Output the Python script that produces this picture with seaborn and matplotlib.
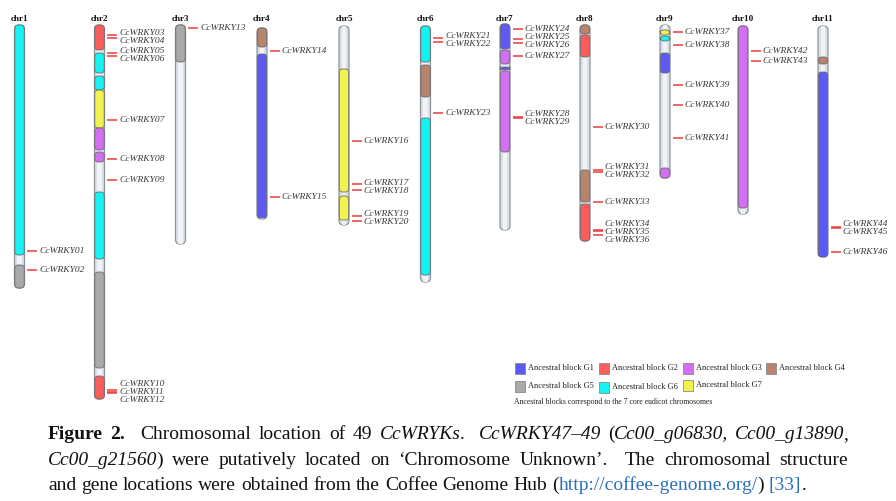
import matplotlib
matplotlib.use("Agg")
import matplotlib.pyplot as plt
from matplotlib.patches import FancyBboxPatch, Rectangle
import numpy as np
import pandas as pd
import seaborn as sns

# ---------------- data ----------------
chromosomes = ["chr1", "chr2", "chr3", "chr4", "chr5", "chr6",
               "chr7", "chr8", "chr9", "chr10", "chr11"]
chrom_top = [25, 25, 25, 28, 26, 26, 24, 25, 25, 26, 26]
chrom_bottom = [288, 399, 244, 219, 225, 282, 230, 241, 178, 214, 257]

block_chrom = ["chr1", "chr1",
               "chr2", "chr2", "chr2", "chr2", "chr2", "chr2", "chr2", "chr2", "chr2",
               "chr3",
               "chr4", "chr4",
               "chr5", "chr5",
               "chr6", "chr6", "chr6",
               "chr7", "chr7", "chr7", "chr7",
               "chr8", "chr8", "chr8", "chr8",
               "chr9", "chr9", "chr9", "chr9",
               "chr10",
               "chr11", "chr11"]
block_start = [25, 265,
               25, 53, 76, 90, 128, 152, 192, 272, 376,
               25,
               28, 54,
               69, 196,
               26, 65, 118,
               24, 50, 67, 71,
               25, 35, 170, 204,
               30, 36, 53, 168,
               26,
               57, 72]
block_end = [255, 288,
             50, 73, 90, 128, 150, 162, 259, 368, 399,
             62,
             47, 218,
             192, 220,
             62, 97, 275,
             49, 64, 70, 152,
             34, 57, 202, 241,
             35, 41, 73, 178,
             208,
             64, 257]
block_group = ["G6", "G5",
               "G2", "G6", "G6", "G7", "G3", "G3", "G6", "G5", "G2",
               "G5",
               "G4", "G1",
               "G7", "G7",
               "G6", "G4", "G6",
               "G1", "G3", "G1", "G3",
               "G4", "G2", "G4", "G2",
               "G7", "G6", "G1", "G3",
               "G3",
               "G4", "G1"]

gene_names = ["CcWRKY01", "CcWRKY02", "CcWRKY03", "CcWRKY04", "CcWRKY05",
              "CcWRKY06", "CcWRKY07", "CcWRKY08", "CcWRKY09", "CcWRKY10",
              "CcWRKY11", "CcWRKY12", "CcWRKY13", "CcWRKY14", "CcWRKY15",
              "CcWRKY16", "CcWRKY17", "CcWRKY18", "CcWRKY19", "CcWRKY20",
              "CcWRKY21", "CcWRKY22", "CcWRKY23", "CcWRKY24", "CcWRKY25",
              "CcWRKY26", "CcWRKY27", "CcWRKY28", "CcWRKY29", "CcWRKY30",
              "CcWRKY31", "CcWRKY32", "CcWRKY33", "CcWRKY34", "CcWRKY35",
              "CcWRKY36", "CcWRKY37", "CcWRKY38", "CcWRKY39", "CcWRKY40",
              "CcWRKY41", "CcWRKY42", "CcWRKY43", "CcWRKY44", "CcWRKY45",
              "CcWRKY46"]
gene_chrom = ["chr1", "chr1",
              "chr2", "chr2", "chr2", "chr2", "chr2", "chr2", "chr2", "chr2", "chr2", "chr2",
              "chr3",
              "chr4", "chr4",
              "chr5", "chr5", "chr5", "chr5", "chr5",
              "chr6", "chr6", "chr6",
              "chr7", "chr7", "chr7", "chr7", "chr7", "chr7",
              "chr8", "chr8", "chr8", "chr8", "chr8", "chr8", "chr8",
              "chr9", "chr9", "chr9", "chr9", "chr9",
              "chr10", "chr10",
              "chr11", "chr11", "chr11"]
gene_pos = [251, 270,
            35, 38, 53, 56, 120, 159, 180, 390, 392, 393,
            28,
            51, 197,
            141, 184, 190, 216, 221,
            38, 42, 113,
            29, 39, 43, 56, 117, 118,
            127, 170, 172, 202, 230, 231, 235,
            32, 45, 85, 105, 138,
            51, 61,
            227, 228, 252]

legend_groups = ["G1", "G2", "G3", "G4", "G5", "G6", "G7"]
group_colors = {"G1": "#5b5bf3", "G2": "#fb5c5c", "G3": "#d46ef2",
                "G4": "#b8846c", "G5": "#a9a9a9", "G6": "#16f2f2",
                "G7": "#f2f24e"}

# ---------------- layout ----------------
CHR_XC = [19.5, 99.5, 180.5, 262, 344, 425.5, 505, 585, 665, 743, 823]
CHR_W = 10.0

sns.set_theme(style="white")
plt.rcParams["font.family"] = ["Liberation Serif", "DejaVu Serif"]

fig = plt.figure(figsize=(8.96, 5.01), dpi=100)
fig.patch.set_facecolor("white")
ax = fig.add_axes([0, 0, 1, 1])
ax.set_facecolor("white")

cx = dict(zip(chromosomes, CHR_XC))

# chromosome bodies
for name, top, bot in zip(chromosomes, chrom_top, chrom_bottom):
    x = cx[name]
    body = FancyBboxPatch((x - CHR_W / 2, top), CHR_W, bot - top,
                          boxstyle="round,pad=0,rounding_size=4.5",
                          fc="#dae0e8", ec="#8e949a", lw=0.9, zorder=1)
    ax.add_patch(body)
    hl = Rectangle((x - 2.2, top), 4.4, bot - top, fc="#f4f6f9",
                   ec="none", alpha=0.9, zorder=1.5)
    hl.set_clip_path(body)
    ax.add_patch(hl)
    ax.text(x, 18.5, name, ha="center", va="center", fontsize=6.6,
            fontweight="bold", color="#111111", zorder=5)

# ancestral blocks
for ch, s, e, g in zip(block_chrom, block_start, block_end, block_group):
    x = cx[ch]
    ax.add_patch(FancyBboxPatch((x - CHR_W / 2 + 0.3, s), CHR_W - 0.6, e - s,
                                boxstyle="round,pad=0,rounding_size=3.5",
                                fc=group_colors[g], ec="#6a6a6a", lw=0.6,
                                zorder=2))

# gene marks via seaborn
genes = pd.DataFrame({"name": gene_names, "chrom": gene_chrom, "pos": gene_pos})
genes["x"] = genes["chrom"].map(cx) + CHR_W / 2 + 7.5
sns.scatterplot(data=genes, x="x", y="pos", marker="_", s=48,
                color="#f03c3c", linewidth=1.1, ax=ax, zorder=3, legend=False)


# label spreading for crowded genes
def spread(ys, gap=8.0):
    clusters = [[y, 1, y] for y in ys]  # [center, n, sum]
    changed = True
    while changed:
        changed = False
        out = []
        for c in clusters:
            if out:
                p = out[-1]
                p_end = p[0] + (p[1] - 1) * gap / 2
                c_start = c[0] - (c[1] - 1) * gap / 2
                if c_start - p_end < gap:
                    n = p[1] + c[1]
                    tot = p[2] + c[2]
                    out[-1] = [tot / n, n, tot]
                    changed = True
                    continue
            out.append(c)
        clusters = out
    res = []
    for c in clusters:
        start = c[0] - (c[1] - 1) * gap / 2
        res.extend(start + i * gap for i in range(c[1]))
    return res


for ch in chromosomes:
    sub = genes[genes["chrom"] == ch].sort_values("pos")
    if sub.empty:
        continue
    ly = spread(list(sub["pos"]))
    for (_, r), yy in zip(sub.iterrows(), ly):
        ax.text(cx[ch] + CHR_W / 2 + 14.5, yy, r["name"], ha="left",
                va="center", fontsize=6.8, fontstyle="italic",
                color="#3a3a3a", zorder=5)

# legend
leg_pos = [(515, 363), (599, 363), (683, 363), (766, 363),
           (515, 381), (599, 382), (683, 380)]
for g, (lx, lyy) in zip(legend_groups, leg_pos):
    ax.add_patch(Rectangle((lx, lyy), 10, 11, fc=group_colors[g],
                           ec="#8a8a8a", lw=0.6, zorder=3))
    ax.text(lx + 13, lyy + 5, "Ancestral block " + g, ha="left", va="center",
            fontsize=6.0, color="#222222")
ax.text(514, 402, "Ancestral blocks correspond to the 7 core eudicot chromosomes",
        ha="left", va="center", fontsize=5.6, color="#222222")

ax.set_xlim(0, 896)
ax.set_ylim(501, 0)
ax.axis("off")

# ---------------- caption (justified) ----------------
renderer = fig.canvas.get_renderer()
STY = {"r": dict(color="#111111"),
       "b": dict(color="#111111", fontweight="bold"),
       "i": dict(color="#111111", fontstyle="italic"),
       "u": dict(color="#2a6fc0")}


def measure(s, st, fs):
    t = ax.text(0, 0, s, fontsize=fs, **STY[st])
    w = t.get_window_extent(renderer).width
    t.remove()
    if st == "i":
        w -= 1.2
    return w


line1 = [[("Figure", "b")], [("2.", "b")], [("Chromosomal", "r")], [("location", "r")],
         [("of", "r")], [("49", "r")], [("CcWRYKs", "i"), (".", "r")],
         [("CcWRKY47–49", "i")], [("(", "r"), ("Cc00_g06830,", "i")],
         [("Cc00_g13890", "i"), (",", "r")]]
w1 = [1, 2, 1, 1, 1, 1, 2, 1, 1]
line2 = [[("Cc00_g21560", "i"), (")", "r")], [("were", "r")], [("putatively", "r")],
         [("located", "r")], [("on", "r")], [("‘Chromosome", "r")],
         [("Unknown’.", "r")], [("The", "r")], [("chromosomal", "r")],
         [("structure", "r")]]
w2 = [1, 1, 1, 1, 1, 1, 2, 1, 1]
line3 = [[("and", "r")], [("gene", "r")], [("locations", "r")], [("were", "r")],
         [("obtained", "r")], [("from", "r")], [("the", "r")], [("Coffee", "r")],
         [("Genome", "r")], [("Hub", "r")],
         [("(", "r"), ("http://coffee-genome.org/", "u"), (")", "r")],
         [("[33]", "u"), (".", "r")]]

# fit font size so that the ragged last line matches its width
base = 12.0
sp_base = measure("a a", "r", base) - measure("aa", "r", base)
w3 = sum(sum(measure(p, st, base) for p, st in word) for word in line3) + sp_base * (len(line3) - 1)
cap_fs = base * 757.0 / w3
cap_fs = min(max(cap_fs, 11.5), 14.0)
space = measure("a a", "r", cap_fs) - measure("aa", "r", cap_fs)


def draw_line(words, weights, y, x0=48.0, x1=848.0, justify=True):
    widths = [[measure(p, st, cap_fs) for p, st in word] for word in words]
    total = sum(sum(w) for w in widths)
    if justify:
        unit = (x1 - x0 - total) / sum(weights)
        gaps = [unit * w for w in weights]
    else:
        gaps = [space] * (len(words) - 1)
    x = x0
    for i, (word, ws) in enumerate(zip(words, widths)):
        for (p, st), w in zip(word, ws):
            ax.text(x, y, p, fontsize=cap_fs, ha="left", va="baseline", **STY[st])
            x += w
        if i < len(gaps):
            x += gaps[i]


draw_line(line1, w1, 439)
draw_line(line2, w2, 465)
draw_line(line3, None, 490, justify=False)

fig.savefig("out.png", dpi=100, facecolor="white")
